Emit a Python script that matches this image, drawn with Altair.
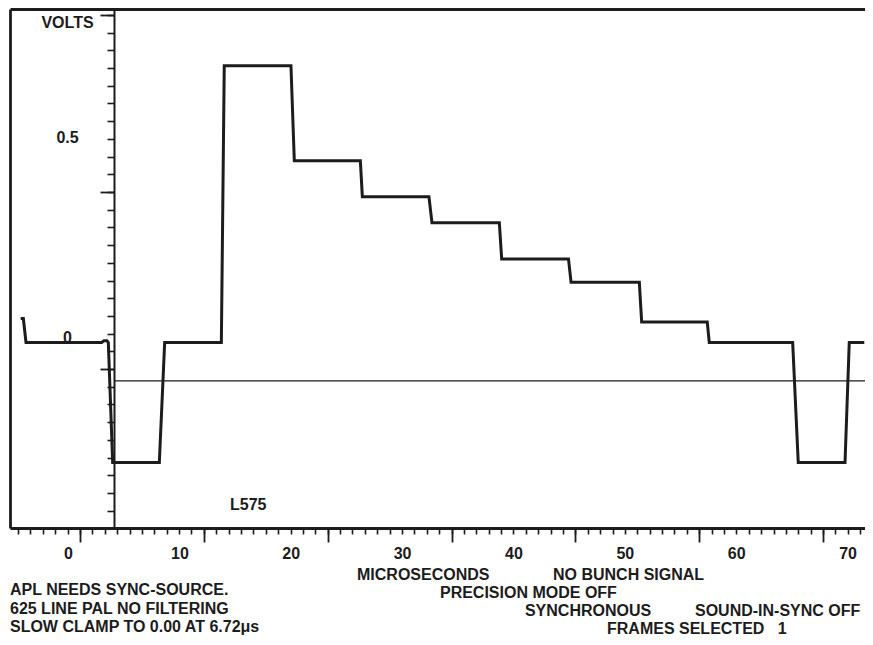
import altair as alt
import pandas as pd

# ---- waveform (time in microseconds, level in volts) ----
t_us = [-4.25, -4.01, -3.77, 3.03, 3.23, 3.50, 3.62, 4.01, 8.20, 8.68, 13.77, 14.03,
        20.02, 20.32, 26.25, 26.43, 32.41, 32.68, 38.73, 38.94, 44.94, 45.17, 51.30,
        51.51, 57.40, 57.58, 65.07, 65.57, 69.77, 70.15, 71.50]
volts = [0.06, 0.06, 0.0, 0.0, 0.0045, 0.0045, 0.0, -0.30, -0.30, 0.0, 0.0, 0.692,
         0.692, 0.4545, 0.4545, 0.3645, 0.3645, 0.2995, 0.2995, 0.209, 0.209, 0.1505,
         0.1505, 0.051, 0.051, 0.0, 0.0, -0.30, -0.30, 0.0, 0.0]

# cursor line level and graticule
cursor_v = [-0.096]
cursor_t = [4.13]
x_labels = [0, 10, 20, 30, 40, 50, 60, 70]
x_major = [1.08, 12.20, 23.32, 34.44, 45.56, 56.68, 67.80]
x_minor = [round(1.08 + 1.112 * k, 3) for k in range(-5, 64)]
y_major = [0.81875, 0.37625, -0.06625]
y_minor = [round(0.81875 - 0.04425 * k, 5) for k in range(30)]
y_label_vals = [0.78875, 0.5, 0.0]

# annotation texts
ann_text = ["MICROSECONDS", "NO BUNCH SIGNAL", "APL NEEDS SYNC-SOURCE.",
            "PRECISION MODE OFF", "625 LINE PAL NO FILTERING", "SYNCHRONOUS",
            "SOUND-IN-SYNC OFF", "SLOW CLAMP TO 0.00 AT 6.72\u03bcs",
            "FRAMES SELECTED\u00a0\u00a0\u00a01"]
ann_t = [25.95, 43.55, -5.21, 33.40, -5.21, 41.03, 56.30, -5.21, 48.40]
ann_v = [-0.58125, -0.58125, -0.61875, -0.62625, -0.66625, -0.67125, -0.67125,
         -0.71125, -0.71625]
tag_text = ["L575"]
tag_t = [14.55]
tag_v = [-0.406]

X_DOM = [-5.208, 71.564]
Y_DOM = [-0.46375, 0.83375]
INK = "#1c1c1c"
FONT = "Liberation Sans"
FS = 16

xs = alt.Scale(domain=X_DOM, nice=False, zero=False)
ys = alt.Scale(domain=Y_DOM, nice=False, zero=False)

wave = pd.DataFrame({"t": t_us, "v": volts})
cur = pd.DataFrame({"t": cursor_t, "t2": [X_DOM[1]], "v": cursor_v})
ann = pd.DataFrame({"t": ann_t, "v": ann_v, "txt": ann_text})
tag = pd.DataFrame({"t": tag_t, "v": tag_v, "txt": tag_text})

line = alt.Chart(wave).mark_line(color=INK, strokeWidth=3, strokeJoin="miter").encode(
    x=alt.X("t:Q", scale=xs, title=None,
            axis=alt.Axis(orient="bottom", values=x_minor, tickSize=6, tickWidth=1.6,
                          labels=False, domain=True, domainWidth=2.8, grid=False)),
    y=alt.Y("v:Q", scale=ys, title=None,
            axis=alt.Axis(orient="left", ticks=False, labels=False, domain=True,
                          domainWidth=2.8, grid=False)),
)

cursor = alt.Chart(cur).mark_rule(color=INK, strokeWidth=1.2).encode(
    x=alt.X("t:Q", scale=xs, title=None,
            axis=alt.Axis(orient="top", ticks=False, labels=False, domain=True,
                          domainWidth=2.8, grid=False)),
    x2="t2:Q",
    y=alt.Y("v:Q", scale=ys, title=None,
            axis=alt.Axis(orient="left", offset=-104, values=y_minor, tickSize=7,
                          tickWidth=1.6, labels=False, domain=True, domainWidth=2,
                          grid=False)),
)

tagl = alt.Chart(tag).mark_text(font=FONT, fontWeight="bold", fontSize=FS, color=INK,
                                align="left", baseline="middle").encode(
    x=alt.X("t:Q", scale=xs, title=None,
            axis=alt.Axis(orient="bottom", values=x_major, tickSize=14, tickWidth=1.8,
                          labels=False, domain=False, grid=False)),
    y=alt.Y("v:Q", scale=ys, title=None,
            axis=alt.Axis(orient="left", offset=-104, values=y_major, tickSize=14,
                          tickWidth=1.8, labels=False, domain=False, grid=False)),
    text="txt:N",
)

annl = alt.Chart(ann).mark_text(font=FONT, fontWeight="bold", fontSize=FS, color=INK,
                                align="left", baseline="middle").encode(
    x=alt.X("t:Q", scale=xs, title=None,
            axis=alt.Axis(orient="bottom", values=x_labels, ticks=False, tickSize=0,
                          domain=False, grid=False, labelPadding=25,
                          labelBaseline="middle", labelFlush=False, labelOverlap=False,
                          format="d")),
    y=alt.Y("v:Q", scale=ys, title=None,
            axis=alt.Axis(orient="left", offset=-104, values=y_label_vals, ticks=False,
                          tickSize=0, domain=False, grid=False, labelPadding=47,
                          labelAlign="center", labelBaseline="middle", labelOffset=-5,
                          labelOverlap=False, labelFlush=False,
                          labelExpr="datum.value > 0.6 ? 'VOLTS' : (datum.value > 0.25 ? '0.5' : '0')")),
    text="txt:N",
)

chart = alt.layer(line, cursor, tagl, annl).resolve_axis(
    x="independent", y="independent"
).properties(
    width=855, height=519,
    autosize=alt.AutoSizeParams(type="none"),
    padding={"left": 2, "top": 1, "right": 0, "bottom": 109},
).configure_view(stroke="transparent").configure_axis(
    domainColor=INK, tickColor=INK, labelColor=INK, labelFont=FONT,
    labelFontWeight="bold", labelFontSize=FS,
)

chart.save("out.html", embed_options={"renderer": "svg", "actions": False})
